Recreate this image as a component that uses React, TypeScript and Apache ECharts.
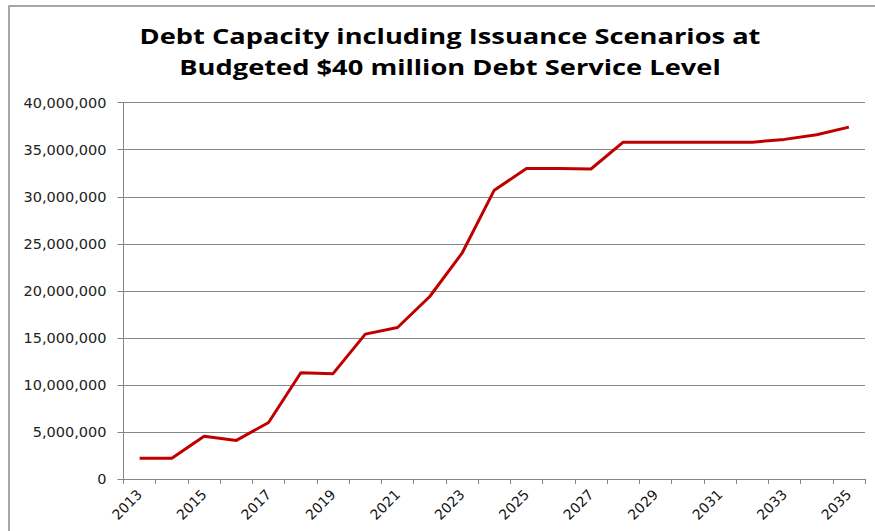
import React, { useEffect, useRef } from "react";
import * as echarts from "echarts";

const years: string[] = [
  "2013", "2014", "2015", "2016", "2017", "2018", "2019", "2020", "2021", "2022", "2023", "2024",
  "2025", "2026", "2027", "2028", "2029", "2030", "2031", "2032", "2033", "2034", "2035",
];

const debtCapacity: number[] = [
  2200000, 2200000, 4550000, 4100000, 6000000, 11300000, 11200000, 15400000, 16100000, 19400000,
  24000000, 30700000, 33000000, 33000000, 32950000, 35800000, 35800000, 35800000, 35800000,
  35800000, 36100000, 36600000, 37400000,
];

const titleLines: string[] = [
  "Debt Capacity including Issuance Scenarios at",
  "Budgeted $40 million Debt Service Level",
];

export default function App() {
  const ref = useRef<HTMLDivElement>(null);
  useEffect(() => {
    if (!ref.current) return;
    const chart = echarts.init(ref.current, null, { renderer: "svg" });
    const titleStyle = {
      fontFamily: "Open Sans",
      fontWeight: "bold",
      fontSize: 22,
      fill: "#000000",
      textAlign: "center",
      textVerticalAlign: "middle",
    };
    chart.setOption({
      animation: false,
      backgroundColor: "#ffffff",
      graphic: [
        {
          type: "rect",
          shape: { x: 9, y: 6, width: 1000, height: 1000 },
          style: { fill: "none", stroke: "#8a8a8a", lineWidth: 1.5 },
          silent: true,
        },
        {
          type: "text",
          x: 450,
          y: 36,
          scaleX: 1.24,
          style: { ...titleStyle, text: titleLines[0] },
          silent: true,
        },
        {
          type: "text",
          x: 450,
          y: 66.5,
          scaleX: 1.24,
          style: { ...titleStyle, text: titleLines[1] },
          silent: true,
        },
      ],
      grid: { left: 123.5, right: 10, top: 102.7, bottom: 52, containLabel: false },
      xAxis: {
        type: "category",
        data: years,
        boundaryGap: true,
        axisLine: { lineStyle: { color: "#868686", width: 1 } },
        axisTick: { show: true, interval: 0, length: 5, lineStyle: { color: "#868686" } },
        axisLabel: {
          interval: 1,
          rotate: 45,
          margin: 13,
          fontFamily: "DejaVu Sans",
          fontSize: 14,
          color: "#111111",
        },
        splitLine: { show: false },
      },
      yAxis: {
        type: "value",
        min: 0,
        max: 40000000,
        interval: 5000000,
        axisLine: { show: true, lineStyle: { color: "#868686", width: 1 } },
        axisTick: { show: true, length: 6, lineStyle: { color: "#868686" } },
        axisLabel: {
          margin: 17,
          fontFamily: "DejaVu Sans",
          fontSize: 14.5,
          color: "#222222",
          formatter: (v: number) => v.toLocaleString("en-US"),
        },
        splitLine: { show: true, lineStyle: { color: "#868686", width: 1 } },
      },
      series: [
        {
          type: "line",
          data: debtCapacity,
          showSymbol: false,
          symbol: "none",
          smooth: false,
          lineStyle: { color: "#C00000", width: 3 },
          itemStyle: { color: "#C00000" },
        },
      ],
    });
    return () => chart.dispose();
  }, []);
  return (
    <div
      ref={ref}
      style={{ position: "absolute", left: 0, top: 0, width: 875, height: 531 }}
    />
  );
}
